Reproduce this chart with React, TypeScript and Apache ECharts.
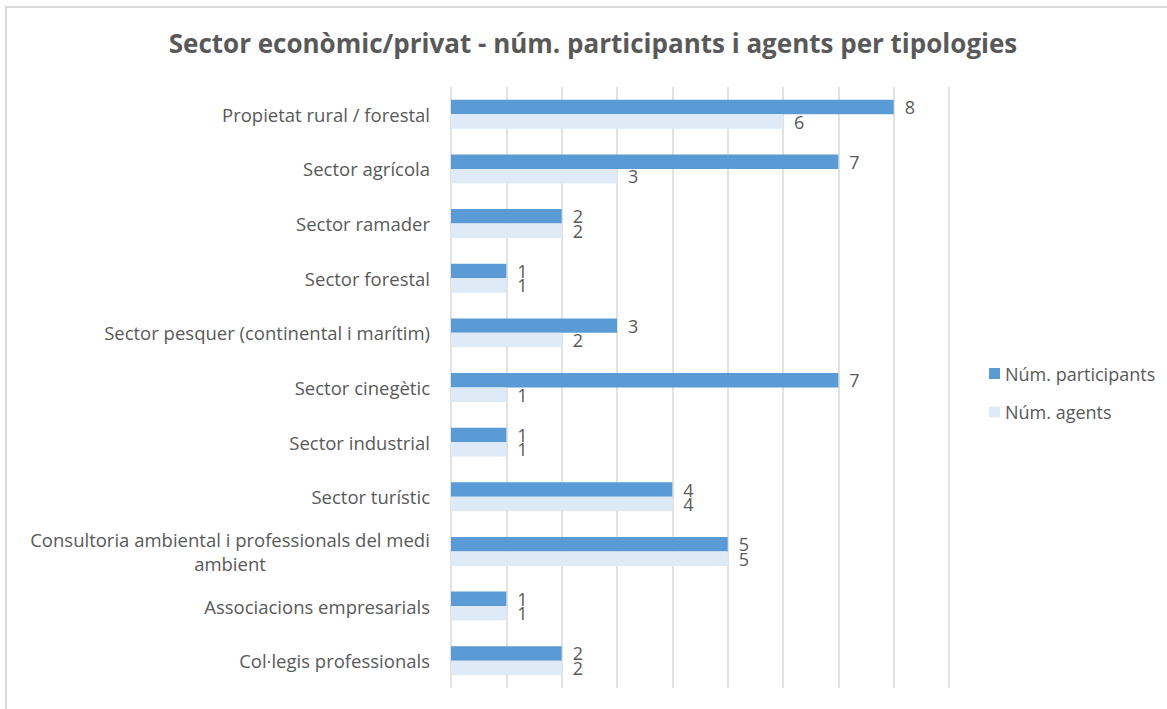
import React, { useEffect, useRef } from "react";
import * as echarts from "echarts";

const categories = [
  "Propietat rural / forestal",
  "Sector agrícola",
  "Sector ramader",
  "Sector forestal",
  "Sector pesquer (continental i marítim)",
  "Sector cinegètic",
  "Sector industrial",
  "Sector turístic",
  "Consultoria ambiental i professionals del medi\nambient",
  "Associacions empresarials",
  "Col·legis professionals",
];
const participants = [8, 7, 2, 1, 3, 7, 1, 4, 5, 1, 2];
const agents = [6, 3, 2, 1, 2, 1, 1, 4, 5, 1, 2];
const xTicks = [0, 1, 2, 3, 4, 5, 6, 7, 8, 9];

const FONT = "'Open Sans', 'Noto Sans', sans-serif";
const TEXT = "#595959";
const CAT_SIZE = 18.5;

function measure(text: string, size: number): number {
  const c = document.createElement("canvas");
  const ctx = c.getContext("2d");
  if (!ctx) return 400;
  ctx.font = `${size}px 'Open Sans', 'Noto Sans', sans-serif`;
  return Math.ceil(ctx.measureText(text).width);
}

export default function App() {
  const ref = useRef<HTMLDivElement>(null);
  useEffect(() => {
    if (!ref.current) return;
    const chart = echarts.init(ref.current, undefined, { renderer: "svg" });
    const multi = categories.find((c) => c.includes("\n")) || "";
    const wrapW = Math.max(...multi.split("\n").map((l) => measure(l, CAT_SIZE)), 10);
    chart.setOption({
      animation: false,
      backgroundColor: "#ffffff",
      textStyle: { fontFamily: FONT },
      title: {
        text: "Sector econòmic/privat - núm. participants i agents per tipologies",
        left: 588,
        top: 25,
        textAlign: "center",
        textStyle: { fontFamily: FONT, fontSize: 26, fontWeight: "bold", color: TEXT },
      },
      graphic: [
        {
          type: "rect",
          shape: { x: 6, y: 7, width: 1300, height: 900 },
          style: { fill: "none", stroke: "#d9d9d9", lineWidth: 2 },
          silent: true,
        },
      ],
      legend: {
        orient: "vertical",
        left: 984,
        top: 359.5,
        itemWidth: 11,
        itemHeight: 11,
        itemGap: 20.5,
        icon: "rect",
        textStyle: { fontFamily: FONT, fontSize: 18, color: TEXT, lineHeight: 18 },
        data: ["Núm. participants", "Núm. agents"],
      },
      grid: { left: 451, right: 218, top: 87, bottom: 21, containLabel: false },
      xAxis: {
        type: "value",
        min: xTicks[0],
        max: xTicks[xTicks.length - 1],
        interval: 1,
        axisLabel: { show: false },
        axisLine: { show: false },
        axisTick: { show: false },
        splitLine: { show: true, lineStyle: { color: "#d9d9d9", width: 1.5 } },
      },
      yAxis: {
        type: "category",
        inverse: true,
        data: categories,
        axisLine: { show: false },
        axisTick: { show: false },
        axisLabel: {
          margin: 21,
          fontFamily: FONT,
          fontSize: CAT_SIZE,
          color: TEXT,
          lineHeight: 24,
          formatter: (v: string) =>
            v.includes("\n") ? v.split("\n").map((l) => `{c|${l}}`).join("\n") : v,
          rich: {
            c: {
              width: wrapW,
              align: "center",
              fontFamily: FONT,
              fontSize: CAT_SIZE,
              color: TEXT,
              lineHeight: 24,
            },
          },
        },
      },
      series: [
        {
          name: "Núm. participants",
          type: "bar",
          data: participants,
          barGap: "0%",
          barCategoryGap: "47%",
          itemStyle: { color: "#5b9bd5" },
          label: { show: true, position: "right", distance: 11, fontFamily: FONT, fontSize: 18, color: TEXT },
        },
        {
          name: "Núm. agents",
          type: "bar",
          data: agents,
          barGap: "0%",
          barCategoryGap: "47%",
          itemStyle: { color: "#deebf7" },
          label: { show: true, position: "right", distance: 11, fontFamily: FONT, fontSize: 18, color: TEXT },
        },
      ],
    });
    return () => chart.dispose();
  }, []);
  return (
    <div
      ref={ref}
      style={{ position: "fixed", left: 0, top: 0, width: 1167, height: 709 }}
    />
  );
}
